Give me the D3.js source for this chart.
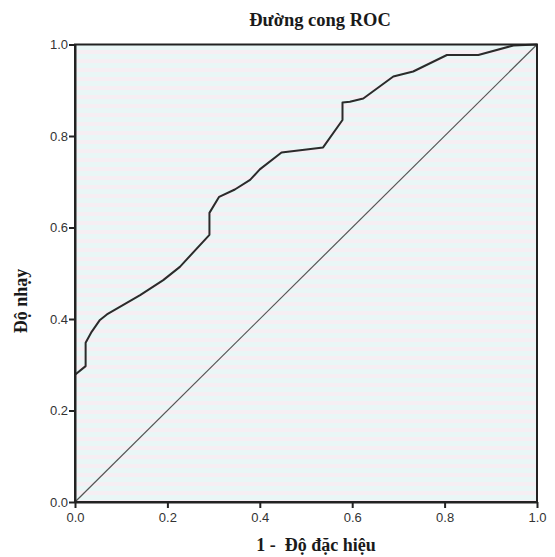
<!DOCTYPE html>
<html>
<head>
<meta charset="utf-8">
<script src="https://cdn.jsdelivr.net/npm/d3@7"></script>
<style>
  html, body { margin: 0; padding: 0; background: #ffffff; }
  svg { display: block; }
</style>
</head>
<body>
<script>
// ---- Data ----
const title = "Đường cong ROC";
const xLabel = "1 -  Độ đặc hiệu";
const yLabel = "Độ nhạy";
const fpr = [0.000, 0.023, 0.023, 0.036, 0.054, 0.069, 0.141, 0.191, 0.227, 0.291, 0.291, 0.312, 0.346, 0.379, 0.400, 0.447, 0.537, 0.579, 0.579, 0.595, 0.624, 0.689, 0.732, 0.805, 0.873, 0.949, 1.000];
const tpr = [0.278, 0.297, 0.348, 0.372, 0.398, 0.410, 0.452, 0.485, 0.514, 0.584, 0.632, 0.667, 0.683, 0.704, 0.727, 0.764, 0.775, 0.835, 0.873, 0.875, 0.882, 0.930, 0.941, 0.977, 0.977, 0.998, 1.000];
const diagonal = [0, 1];
const tickValues = [0, 0.2, 0.4, 0.6, 0.8, 1.0];

// ---- Layout ----
const W = 555, H = 557;
const mLeft = 75, mRight = 537, mTop = 44.5, mBottom = 502;

const svg = d3.select("body").append("svg")
  .attr("width", W).attr("height", H);

const x = d3.scaleLinear().domain([0, 1]).range([mLeft, mRight]);
const y = d3.scaleLinear().domain([0, 1]).range([mBottom, mTop]);

// Background stripes (scanned paper look)
const defs = svg.append("defs");
const pat = defs.append("pattern")
  .attr("id", "stripes").attr("patternUnits", "userSpaceOnUse")
  .attr("width", 10).attr("height", 9);
pat.append("rect").attr("width", 10).attr("height", 9).attr("fill", "#e9f6f6");
pat.append("rect").attr("y", 5).attr("width", 10).attr("height", 4).attr("fill", "#f6eef3");

svg.append("rect")
  .attr("x", mLeft).attr("y", mTop)
  .attr("width", mRight - mLeft).attr("height", mBottom - mTop)
  .attr("fill", "url(#stripes)");

// Diagonal reference line
svg.append("line")
  .attr("x1", x(diagonal[0])).attr("y1", y(diagonal[0]))
  .attr("x2", x(diagonal[1])).attr("y2", y(diagonal[1]))
  .attr("stroke", "#555").attr("stroke-width", 1.2);

// ROC curve
const pts = fpr.map((v, i) => [v, tpr[i]]);
svg.append("path")
  .datum(pts)
  .attr("fill", "none")
  .attr("stroke", "#2b2b2b")
  .attr("stroke-width", 2)
  .attr("stroke-linejoin", "round")
  .attr("d", d3.line().x(d => x(d[0])).y(d => y(d[1])));

// Frame (top and right)
svg.append("rect")
  .attr("x", mLeft).attr("y", mTop)
  .attr("width", mRight - mLeft).attr("height", mBottom - mTop)
  .attr("fill", "none").attr("stroke", "#222").attr("stroke-width", 2);

// Axes
const fmt = d3.format(".1f");
const xAxis = svg.append("g")
  .attr("transform", `translate(0,${mBottom})`)
  .call(d3.axisBottom(x).tickValues(tickValues).tickFormat(fmt).tickSize(6).tickSizeOuter(0));
const yAxis = svg.append("g")
  .attr("transform", `translate(${mLeft},0)`)
  .call(d3.axisLeft(y).tickValues(tickValues).tickFormat(fmt).tickSize(6).tickSizeOuter(0));

[xAxis, yAxis].forEach(g => {
  g.select(".domain").attr("stroke", "#222").attr("stroke-width", 2);
  g.selectAll(".tick line").attr("stroke", "#222").attr("stroke-width", 2);
  g.selectAll(".tick text")
    .attr("fill", "#333")
    .style("font-family", "Arial, 'Liberation Sans', sans-serif")
    .style("font-size", "13px");
});
xAxis.selectAll(".tick text").attr("dy", "0.9em").attr("y", 8);
yAxis.selectAll(".tick text").attr("x", -7);

// Title
svg.append("text")
  .attr("x", 320).attr("y", 26)
  .attr("text-anchor", "middle")
  .style("font-family", "'Liberation Serif', 'Times New Roman', serif")
  .style("font-weight", "bold")
  .style("font-size", "18.5px")
  .attr("fill", "#1a1a1a")
  .text(title);

// X label
svg.append("text")
  .attr("x", 316).attr("y", 551)
  .attr("text-anchor", "middle")
  .attr("xml:space", "preserve")
  .style("white-space", "pre")
  .style("font-family", "'Liberation Serif', 'Times New Roman', serif")
  .style("font-weight", "bold")
  .style("font-size", "18px")
  .attr("fill", "#1a1a1a")
  .text(xLabel);

// Y label
svg.append("text")
  .attr("transform", "translate(27,301) rotate(-90)")
  .attr("text-anchor", "middle")
  .style("font-family", "'Liberation Serif', 'Times New Roman', serif")
  .style("font-weight", "bold")
  .style("font-size", "18px")
  .attr("fill", "#1a1a1a")
  .text(yLabel);
</script>
</body>
</html>
